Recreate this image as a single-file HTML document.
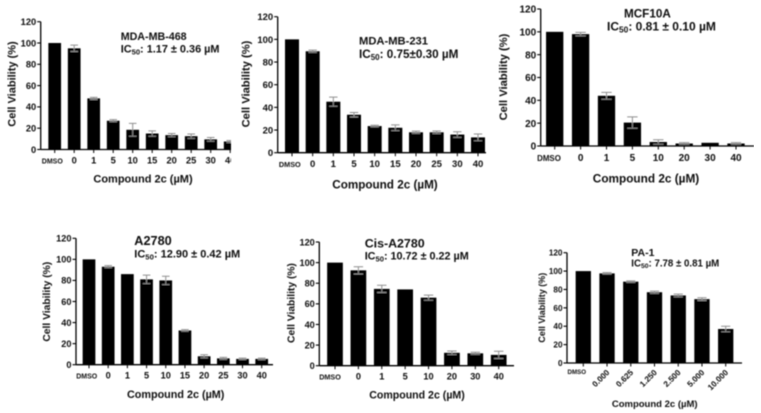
<!DOCTYPE html>
<html lang="en">
<head>
<meta charset="utf-8">
<title>Cell viability panels</title>
<style>
html,body{margin:0;padding:0;background:#fff;width:761px;height:413px;overflow:hidden}
svg{display:block}
text{font-family:"Liberation Sans",sans-serif;font-weight:bold;fill:#111}
</style>
</head>
<body>
<svg id="figure" width="761" height="413" viewBox="0 0 761 413" xmlns="http://www.w3.org/2000/svg">
<defs>
<filter id="soft" x="0" y="0" width="100%" height="100%"><feGaussianBlur stdDeviation="0.42"/></filter>
<clipPath id="clip-one"><rect x="0" y="0" width="231" height="200"/></clipPath>
</defs>
<g filter="url(#soft)">
<g id="panel-1">
<text x="120.7" y="40" font-size="10.7">MDA-MB-468</text>
<text x="120.7" y="52.5" font-size="10.9">IC<tspan font-size="7.6" dy="2">50</tspan><tspan dy="-2">: 1.17 ± 0.36 µM</tspan></text>
<text x="143" y="182.7" font-size="11" text-anchor="middle">Compound 2c (µM)</text>
<text transform="translate(15.3,84) rotate(-90)" font-size="11" text-anchor="middle">Cell Viability (%)</text>
</g>
<g id="panel-2">
<text x="359" y="44.3" font-size="11.2">MDA-MB-231</text>
<text x="359" y="58" font-size="11.7">IC<tspan font-size="8" dy="2">50</tspan><tspan dy="-2">: 0.75±0.30 µM</tspan></text>
<text x="385" y="188.3" font-size="11.7" text-anchor="middle">Compound 2c (µM)</text>
<text transform="translate(249.3,84) rotate(-90)" font-size="11.2" text-anchor="middle">Cell Viability (%)</text>
</g>
<g id="panel-3">
<text x="624" y="17.3" font-size="11.7">MCF10A</text>
<text x="607" y="30.7" font-size="12">IC<tspan font-size="8.4" dy="2">50</tspan><tspan dy="-2">: 0.81 ± 0.10 µM</tspan></text>
<text x="646" y="182.3" font-size="11.8" text-anchor="middle">Compound 2c (µM)</text>
<text transform="translate(507,77) rotate(-90)" font-size="11.2" text-anchor="middle">Cell Viability (%)</text>
</g>
<g id="panel-4">
<text x="134.3" y="245" font-size="12.7">A2780</text>
<text x="134.3" y="257.3" font-size="11">IC<tspan font-size="7.7" dy="2">50</tspan><tspan dy="-2">: 12.90 ± 0.42 µM</tspan></text>
<text x="175.7" y="398" font-size="10.8" text-anchor="middle">Compound 2c (µM)</text>
<text transform="translate(50,301.7) rotate(-90)" font-size="10.3" text-anchor="middle">Cell Viability (%)</text>
</g>
<g id="panel-5">
<text x="364.7" y="247.7" font-size="12.4">Cis-A2780</text>
<text x="364.7" y="259.7" font-size="10.8">IC<tspan font-size="7.6" dy="2">50</tspan><tspan dy="-2">: 10.72 ± 0.22 µM</tspan></text>
<text x="417" y="398.3" font-size="10.6" text-anchor="middle">Compound 2c (µM)</text>
<text transform="translate(294.7,303) rotate(-90)" font-size="10.3" text-anchor="middle">Cell Viability (%)</text>
</g>
<g id="panel-6">
<text x="631.3" y="256" font-size="10.5">PA-1</text>
<text x="631.3" y="266.7" font-size="9.7">IC<tspan font-size="6.8" dy="1.5">50</tspan><tspan dy="-1.5">: 7.78 ± 0.81 µM</tspan></text>
<text x="654.7" y="407" font-size="9.5" text-anchor="middle">Compound 2c (µM)</text>
<text transform="translate(545,307.7) rotate(-90)" font-size="9" text-anchor="middle">Cell Viability (%)</text>
</g>
</g>
</svg>
<script>
const yTicks = [0, 20, 40, 60, 80, 100, 120];

const mda468Categories = ["DMSO", "0", "1", "5", "10", "15", "20", "25", "30", "40"];
const mda468Values = [100, 95, 48, 27, 18.5, 15, 13.5, 12.5, 9.5, 7.5];
const mda468Errors = [0, 3, 1, 1, 6, 2.5, 1.5, 2, 1.8, 1];

const mda231Categories = ["DMSO", "0", "1", "5", "10", "15", "20", "25", "30", "40"];
const mda231Values = [100, 89.5, 45, 33.5, 23.5, 22, 18, 18, 16, 13.5];
const mda231Errors = [0, 1, 4, 2, 0.7, 2.5, 1, 1.2, 2.5, 3];

const mcf10aCategories = ["DMSO", "0", "1", "5", "10", "20", "30", "40"];
const mcf10aValues = [100, 98, 44, 20.5, 3.5, 2.2, 2.8, 2.2];
const mcf10aErrors = [0, 1.5, 3, 5, 2, 0.8, 0, 0.8];

const a2780Categories = ["DMSO", "0", "1", "5", "10", "15", "20", "25", "30", "40"];
const a2780Values = [100, 93, 86, 81, 80, 32.5, 8, 6, 5.5, 5.5];
const a2780Errors = [0, 1, 0, 4, 4, 0.8, 1.5, 1, 0.7, 0.8];

const cisA2780Categories = ["DMSO", "0", "1", "5", "10", "20", "30", "40"];
const cisA2780Values = [100, 92.5, 74.5, 74, 66, 12.5, 12, 10.5];
const cisA2780Errors = [0, 3.5, 3.5, 0, 2.5, 1.7, 1, 3.5];

const pa1Categories = ["DMSO", "0.000", "0.625", "1.250", "2.500", "5.000", "10.000"];
const pa1Values = [100, 97.5, 88.5, 77, 73.5, 69.5, 37];
const pa1Errors = [0, 0.8, 0.8, 1.2, 1.5, 1.5, 3];

const SVG_NS = "http://www.w3.org/2000/svg";

function make(tag, attrs, parent, content) {
  const node = document.createElementNS(SVG_NS, tag);
  for (const key in attrs) node.setAttribute(key, attrs[key]);
  if (content !== undefined) node.textContent = content;
  parent.appendChild(node);
  return node;
}

function drawPanel(panelId, box, categories, values, errors) {
  const panel = document.getElementById(panelId);
  const scaleY = v => box.bottom - (v / 120) * (box.bottom - box.top);
  const scaleX = i => box.first + (box.last - box.first) * i / (categories.length - 1);
  const plot = make("g", box.clip ? { "clip-path": "url(#" + box.clip + ")" } : {}, panel);
  
  

  values.forEach((value, i) => {
    const bar = make("rect", {
      x: scaleX(i) - box.barWidth / 2,
      y: scaleY(value),
      width: box.barWidth,
      height: box.bottom - scaleY(value),
      fill: "#000"
    }, plot);
    
    

    if (errors[i] > 0) {
      const cap = box.barWidth * 0.3;
      const hi = scaleY(value + errors[i]);
      const lo = scaleY(value - errors[i]);
      const error = make("path", {
        d: "M" + (scaleX(i) - cap) + " " + hi + "H" + (scaleX(i) + cap) +
           "M" + scaleX(i) + " " + hi + "V" + lo +
           "M" + (scaleX(i) - cap) + " " + lo + "H" + (scaleX(i) + cap),
        stroke: "#8f8f8f",
        "stroke-width": 1,
        fill: "none"
      }, plot);
      
      
    }

    const tick = make("line", {
      x1: scaleX(i), x2: scaleX(i),
      y1: box.bottom, y2: box.bottom + 3.5,
      stroke: "#000", "stroke-width": 1
    }, plot);
    
    

    const isControl = categories[i] === "DMSO";
    const attrs = { "font-size": isControl ? box.controlFont : box.tickFont };
    if (box.rotated && !isControl) {
      attrs["text-anchor"] = "end";
      attrs.transform = "translate(" + (scaleX(i) + 3) + "," + (box.labelY - 1) + ") rotate(-45)";
    } else {
      attrs["text-anchor"] = "middle";
      attrs.x = scaleX(i) - (isControl ? box.controlShift : 0);
      attrs.y = box.labelY;
    }
    const label = make("text", attrs, plot, categories[i]);
    
    
  });

  const xAxis = make("line", {
    x1: box.left, x2: box.right,
    y1: box.bottom, y2: box.bottom,
    stroke: "#000", "stroke-width": 1.3
  }, panel);
  
  

  const yAxis = make("line", {
    x1: box.left, x2: box.left,
    y1: box.top, y2: box.bottom,
    stroke: "#000", "stroke-width": 1.3
  }, panel);
  
  

  yTicks.forEach(value => {
    const tick = make("line", {
      x1: box.left - 3.5, x2: box.left,
      y1: scaleY(value), y2: scaleY(value),
      stroke: "#000", "stroke-width": 1.1
    }, panel);
    
    

    const label = make("text", {
      x: box.left - 4.5,
      y: scaleY(value) + box.tickFont * 0.36,
      "font-size": box.tickFont,
      "text-anchor": "end"
    }, panel, value);
    
    
  });
}

drawPanel("panel-1", { left: 40.7, right: 231, top: 21.7, bottom: 149.5, first: 54.7, last: 230.2, barWidth: 12.7, tickFont: 9.3, controlFont: 7, controlShift: 2.4, labelY: 163.3, clip: "clip-one" }, mda468Categories, mda468Values, mda468Errors);
drawPanel("panel-2", { left: 277.7, right: 486, top: 16.7, bottom: 152.7, first: 292, last: 478, barWidth: 14, tickFont: 9.5, controlFont: 7.3, controlShift: 2.2, labelY: 167 }, mda231Categories, mda231Values, mda231Errors);
drawPanel("panel-3", { left: 540.7, right: 754, top: 9, bottom: 146, first: 554.7, last: 736, barWidth: 17.3, tickFont: 10, controlFont: 7.9, controlShift: 5.7, labelY: 161 }, mcf10aCategories, mcf10aValues, mcf10aErrors);
drawPanel("panel-4", { left: 76, right: 273, top: 238.3, bottom: 364.7, first: 89, last: 261.7, barWidth: 12.7, tickFont: 9.2, controlFont: 7, controlShift: 2.3, labelY: 378.7 }, a2780Categories, a2780Values, a2780Errors);
drawPanel("panel-5", { left: 319.3, right: 514, top: 242, bottom: 365.7, first: 335, last: 498.7, barWidth: 15.7, tickFont: 9.2, controlFont: 7.2, controlShift: 5, labelY: 379.3 }, cisA2780Categories, cisA2780Values, cisA2780Errors);
drawPanel("panel-6", { left: 567, right: 742, top: 252.7, bottom: 363, first: 583.3, last: 725.7, barWidth: 15.3, tickFont: 8.2, controlFont: 6.2, controlShift: 6.5, labelY: 374, rotated: true }, pa1Categories, pa1Values, pa1Errors);
</script>
</body>
</html>
